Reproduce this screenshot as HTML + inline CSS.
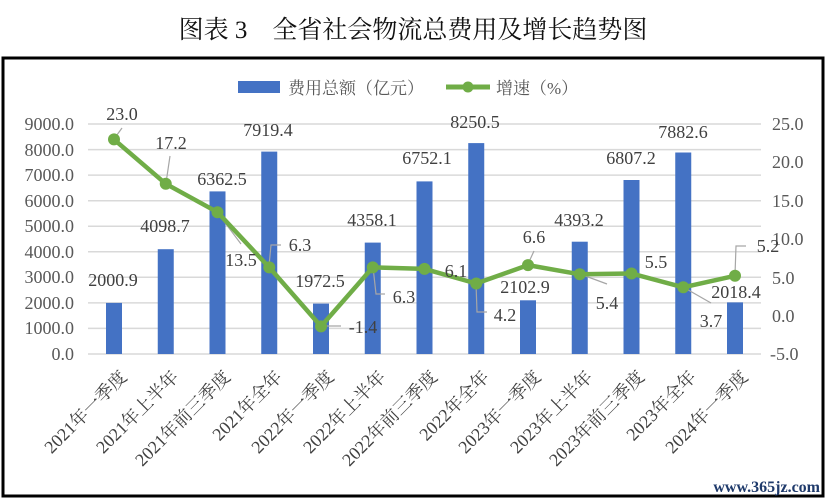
<!DOCTYPE html>
<html><head><meta charset="utf-8"><style>
html,body{margin:0;padding:0;background:#fff;}
svg{display:block;}
text{font-family:"Liberation Serif","Noto Serif CJK SC",serif;}
</style></head><body>
<svg width="827" height="502" viewBox="0 0 827 502" xmlns="http://www.w3.org/2000/svg">
<text x="413" y="38" text-anchor="middle" font-size="25" fill="#111">图表 3　全省社会物流总费用及增长趋势图</text>
<rect x="3" y="58" width="820" height="438" fill="none" stroke="#000" stroke-width="3"/>
<rect x="238" y="81" width="42" height="12" fill="#4472C4"/>
<text x="288" y="94" font-size="17" fill="#595959">费用总额（亿元）</text>
<line x1="446" y1="87" x2="490" y2="87" stroke="#70AD47" stroke-width="5"/>
<circle cx="468" cy="87" r="5.5" fill="#70AD47"/>
<text x="496" y="94" font-size="17" fill="#595959">增速（%）</text>
<g stroke="#d9d9d9" stroke-width="1.5">
<line x1="88" x2="761" y1="124" y2="124"/><line x1="88" x2="761" y1="149.6" y2="149.6"/>
<line x1="88" x2="761" y1="175.1" y2="175.1"/><line x1="88" x2="761" y1="200.7" y2="200.7"/>
<line x1="88" x2="761" y1="226.2" y2="226.2"/><line x1="88" x2="761" y1="251.8" y2="251.8"/>
<line x1="88" x2="761" y1="277.3" y2="277.3"/><line x1="88" x2="761" y1="302.9" y2="302.9"/>
<line x1="88" x2="761" y1="328.4" y2="328.4"/><line x1="88" x2="761" y1="354" y2="354"/>
</g>
<g font-size="18" fill="#595959" text-anchor="end">
<text x="74" y="130">9000.0</text><text x="74" y="156">8000.0</text><text x="74" y="181">7000.0</text>
<text x="74" y="207">6000.0</text><text x="74" y="232">5000.0</text><text x="74" y="258">4000.0</text>
<text x="74" y="283">3000.0</text><text x="74" y="309">2000.0</text><text x="74" y="334">1000.0</text>
<text x="74" y="360">0.0</text>
</g>
<g font-size="18" fill="#595959">
<text x="772" y="130">25.0</text><text x="772" y="168">20.0</text><text x="772" y="207">15.0</text>
<text x="772" y="245">10.0</text><text x="772" y="284">5.0</text><text x="772" y="322">0.0</text>
<text x="770" y="360">-5.0</text>
</g>
<g fill="#4472C4">
<rect x="106" y="302.9" width="16" height="51.1"/>
<rect x="157.75" y="249.2" width="16" height="104.8"/>
<rect x="209.5" y="191.4" width="16" height="162.6"/>
<rect x="261.25" y="151.6" width="16" height="202.4"/>
<rect x="313" y="303.6" width="16" height="50.4"/>
<rect x="364.75" y="242.6" width="16" height="111.4"/>
<rect x="416.5" y="181.4" width="16" height="172.6"/>
<rect x="468.25" y="143.1" width="16" height="210.9"/>
<rect x="520" y="300.3" width="16" height="53.7"/>
<rect x="571.75" y="241.7" width="16" height="112.3"/>
<rect x="623.5" y="180" width="16" height="174"/>
<rect x="675.25" y="152.5" width="16" height="201.5"/>
<rect x="727" y="302.4" width="16" height="51.6"/>
</g>
<g stroke="#a6a6a6" stroke-width="1.2" fill="none">
<polyline points="114,139 122,128"/>
<polyline points="166,183 170,156"/>
<polyline points="217,212 241,244"/>
<polyline points="269,266 271,245 281,245"/>
<polyline points="321,326 341,326"/>
<polyline points="373,267 376,294 385,294"/>
<polyline points="476,283 477,312 487,312"/>
<polyline points="528,264 534,251"/>
<polyline points="580,274 607,284"/>
<polyline points="683,287 711,303"/>
<polyline points="735,275 736,246 746,246"/>
</g>
<polyline fill="none" stroke="#70AD47" stroke-width="4.5" stroke-linejoin="round" points="114,139.4 165.75,183.8 217.5,212.2 269.25,267.4 321,326.4 372.75,267.4 424.5,268.9 476.25,283.5 528,265.1 579.75,274.3 631.5,273.5 683.25,287.3 735,275.8"/>
<g fill="#70AD47">
<circle cx="114" cy="139.4" r="6"/><circle cx="165.75" cy="183.8" r="6"/><circle cx="217.5" cy="212.2" r="6"/>
<circle cx="269.25" cy="267.4" r="6"/><circle cx="321" cy="326.4" r="6"/><circle cx="372.75" cy="267.4" r="6"/>
<circle cx="424.5" cy="268.9" r="6"/><circle cx="476.25" cy="283.5" r="6"/><circle cx="528" cy="265.1" r="6"/>
<circle cx="579.75" cy="274.3" r="6"/><circle cx="631.5" cy="273.5" r="6"/><circle cx="683.25" cy="287.3" r="6"/>
<circle cx="735" cy="275.8" r="6"/>
</g>
<g font-size="18" fill="#404040" text-anchor="middle">
<text x="113" y="286">2000.9</text><text x="165" y="232">4098.7</text><text x="222" y="185">6362.5</text>
<text x="268" y="136">7919.4</text><text x="320" y="287">1972.5</text><text x="372" y="226">4358.1</text>
<text x="427" y="164">6752.1</text><text x="475" y="128">8250.5</text><text x="525" y="293">2102.9</text>
<text x="579" y="226">4393.2</text><text x="631" y="164">6807.2</text><text x="683" y="138">7882.6</text>
<text x="736" y="298">2018.4</text>
</g>
<g font-size="18" fill="#404040" text-anchor="middle">
<text x="122" y="120">23.0</text><text x="171" y="149">17.2</text><text x="241" y="266">13.5</text>
<text x="300" y="251">6.3</text><text x="363" y="333">-1.4</text><text x="404" y="303">6.3</text>
<text x="456" y="277">6.1</text><text x="505" y="321">4.2</text><text x="534" y="243">6.6</text>
<text x="607" y="309">5.4</text><text x="656" y="268">5.5</text><text x="711" y="327">3.7</text>
<text x="768" y="252">5.2</text>
</g>
<g font-size="18" fill="#404040" text-anchor="end">
<text transform="translate(128,378) rotate(-45)">2021年一季度</text>
<text transform="translate(179.75,378) rotate(-45)">2021年上半年</text>
<text transform="translate(231.5,378) rotate(-45)">2021年前三季度</text>
<text transform="translate(283.25,378) rotate(-45)">2021年全年</text>
<text transform="translate(335,378) rotate(-45)">2022年一季度</text>
<text transform="translate(386.75,378) rotate(-45)">2022年上半年</text>
<text transform="translate(438.5,378) rotate(-45)">2022年前三季度</text>
<text transform="translate(490.25,378) rotate(-45)">2022年全年</text>
<text transform="translate(542,378) rotate(-45)">2023年一季度</text>
<text transform="translate(593.75,378) rotate(-45)">2023年上半年</text>
<text transform="translate(645.5,378) rotate(-45)">2023年前三季度</text>
<text transform="translate(697.25,378) rotate(-45)">2023年全年</text>
<text transform="translate(749,378) rotate(-45)">2024年一季度</text>
</g>
<text x="820" y="492" text-anchor="end" font-size="16" font-weight="bold" fill="#1f3a6b">www.365jz.com</text>
</svg>
</body></html>
